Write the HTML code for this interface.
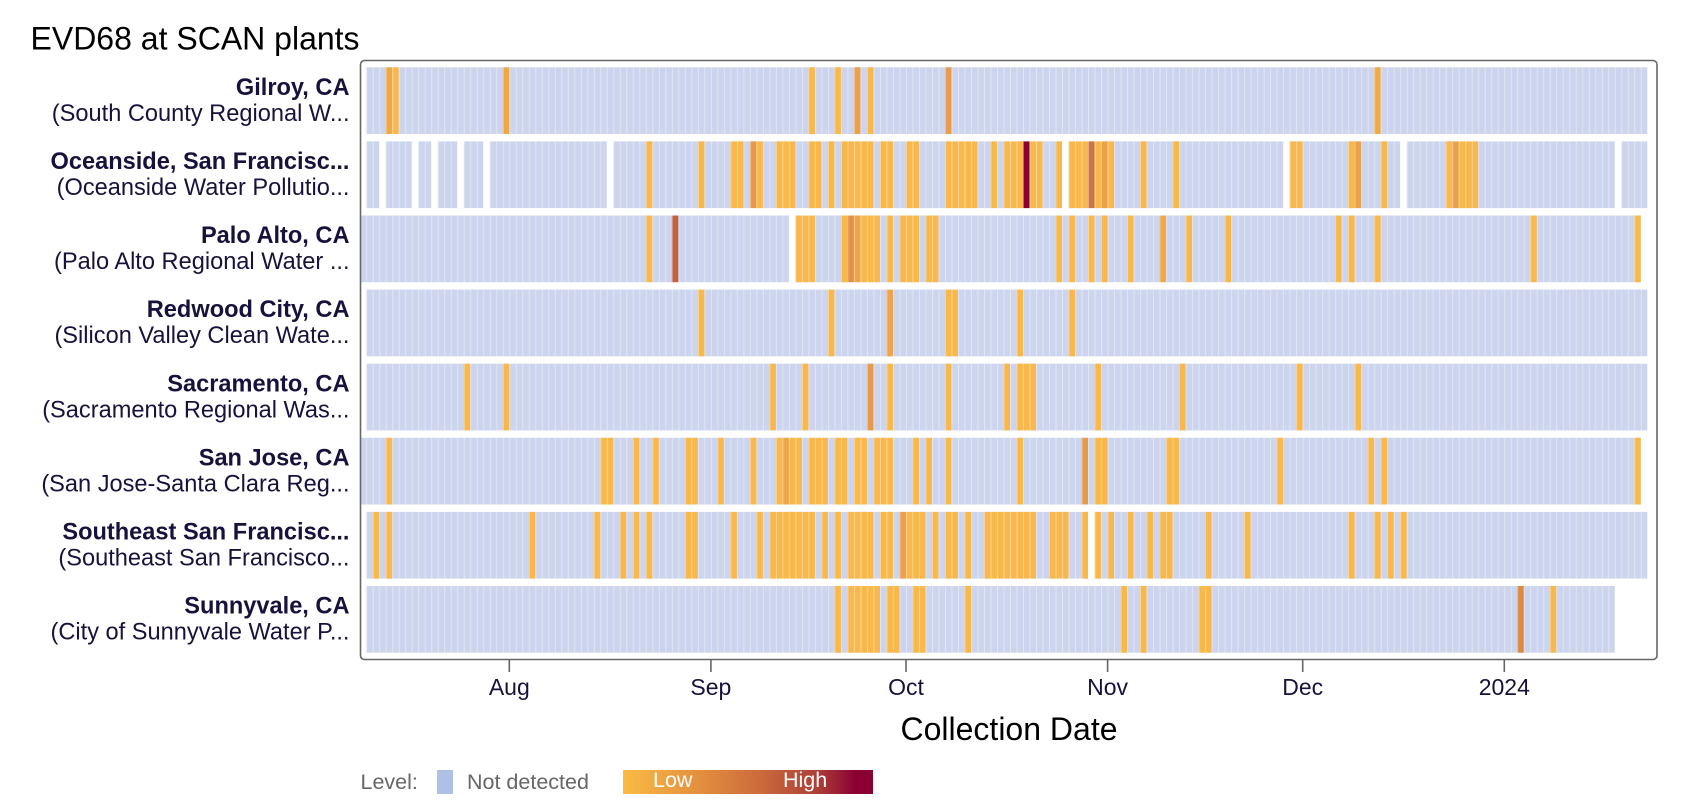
<!DOCTYPE html>
<html>
<head>
<meta charset="utf-8">
<style>
  html,body{margin:0;padding:0;background:#fff;}
  svg{display:block;font-family:"Liberation Sans",Arial,sans-serif;}
</style>
</head>
<body>
<svg width="1698" height="810" viewBox="0 0 1698 810" xmlns="http://www.w3.org/2000/svg">
  <defs>
    <clipPath id="plotclip"><rect x="361" y="61" width="1295" height="598"/></clipPath>
    <pattern id="sep" patternUnits="userSpaceOnUse" x="509.3" y="0" width="6.503" height="810">
      <rect x="0" y="0" width="0.9" height="810" fill="#ffffff" fill-opacity="0.42"/>
    </pattern>
    <linearGradient id="lg" x1="0" x2="1" y1="0" y2="0">
      <stop offset="0" stop-color="#fbbb44"/>
      <stop offset="0.3" stop-color="#e3903f"/>
      <stop offset="0.55" stop-color="#cc6a3c"/>
      <stop offset="0.78" stop-color="#ac3e37"/>
      <stop offset="0.93" stop-color="#8b0033"/>
      <stop offset="1" stop-color="#8b0033"/>
    </linearGradient>
  </defs>

  <rect x="0" y="0" width="1698" height="810" fill="#ffffff"/>

  <!-- Title -->
  <text x="30.5" y="49.3" font-size="32" fill="#000">EVD68 at SCAN plants</text>

  <!-- Cells -->
  <g clip-path="url(#plotclip)">
    <g transform="translate(509.3 0) scale(6.503 1)">
      <!-- Row 0 Gilroy -->
      <rect x="-22" y="67.3" width="197" height="66.7" fill="#ccd5ed"/>
      <g fill="#f9b84c">
        <rect x="-19" y="67.3" width="1" height="66.7" fill="#f0a843"/>
        <rect x="-18" y="67.3" width="1" height="66.7"/>
        <rect x="-1" y="67.3" width="1" height="66.7" fill="#f0a843"/>
        <rect x="46" y="67.3" width="1" height="66.7"/>
        <rect x="50" y="67.3" width="1" height="66.7"/>
        <rect x="53" y="67.3" width="1" height="66.7" fill="#eba04a"/>
        <rect x="55" y="67.3" width="1" height="66.7"/>
        <rect x="67" y="67.3" width="1" height="66.7" fill="#e99c4c"/>
        <rect x="133" y="67.3" width="1" height="66.7" fill="#f0aa48"/>
      </g>

      <!-- Row 1 Oceanside -->
      <rect x="-22" y="141.4" width="197" height="66.7" fill="#ccd5ed"/>
      <g fill="#ffffff">
        <rect x="-20" y="141.4" width="1" height="66.7"/>
        <rect x="-15" y="141.4" width="1" height="66.7"/>
        <rect x="-12" y="141.4" width="1" height="66.7"/>
        <rect x="-8" y="141.4" width="1" height="66.7"/>
        <rect x="-4" y="141.4" width="1" height="66.7"/>
        <rect x="15" y="141.4" width="1" height="66.7"/>
        <rect x="85" y="141.4" width="1" height="66.7"/>
        <rect x="119" y="141.4" width="1" height="66.7"/>
        <rect x="137" y="141.4" width="1" height="66.7"/>
        <rect x="170" y="141.4" width="1" height="66.7"/>
      </g>
      <g fill="#f9b84c">
        <rect x="21" y="141.4" width="1" height="66.7"/>
        <rect x="29" y="141.4" width="1" height="66.7"/>
        <rect x="34" y="141.4" width="2" height="66.7"/>
        <rect x="37" y="141.4" width="1" height="66.7" fill="#e99a48"/>
        <rect x="38" y="141.4" width="1" height="66.7"/>
        <rect x="41" y="141.4" width="3" height="66.7"/>
        <rect x="46" y="141.4" width="2" height="66.7"/>
        <rect x="49" y="141.4" width="1" height="66.7"/>
        <rect x="51" y="141.4" width="5" height="66.7"/>
        <rect x="57" y="141.4" width="2" height="66.7"/>
        <rect x="61" y="141.4" width="2" height="66.7"/>
        <rect x="67" y="141.4" width="5" height="66.7"/>
        <rect x="74" y="141.4" width="1" height="66.7"/>
        <rect x="76" y="141.4" width="3" height="66.7"/>
        <rect x="79" y="141.4" width="1" height="66.7" fill="#8b0033"/>
        <rect x="80" y="141.4" width="2" height="66.7"/>
        <rect x="84" y="141.4" width="1" height="66.7"/>
        <rect x="86" y="141.4" width="3" height="66.7"/>
        <rect x="89" y="141.4" width="1" height="66.7" fill="#cf7442"/>
        <rect x="90" y="141.4" width="1" height="66.7"/>
        <rect x="91" y="141.4" width="1" height="66.7" fill="#eba04a"/>
        <rect x="92" y="141.4" width="1" height="66.7"/>
        <rect x="97" y="141.4" width="1" height="66.7"/>
        <rect x="102" y="141.4" width="1" height="66.7"/>
        <rect x="120" y="141.4" width="2" height="66.7"/>
        <rect x="129" y="141.4" width="1" height="66.7"/>
        <rect x="130" y="141.4" width="1" height="66.7" fill="#eba04a"/>
        <rect x="134" y="141.4" width="1" height="66.7"/>
        <rect x="144" y="141.4" width="1" height="66.7"/>
        <rect x="145" y="141.4" width="1" height="66.7" fill="#eba04a"/>
        <rect x="146" y="141.4" width="3" height="66.7"/>
      </g>

      <!-- Row 2 Palo Alto -->
      <rect x="-23" y="215.5" width="197" height="66.7" fill="#ccd5ed"/>
      <rect x="43" y="215.5" width="1" height="66.7" fill="#ffffff"/>
      <g fill="#f9b84c">
        <rect x="21" y="215.5" width="1" height="66.7"/>
        <rect x="25" y="215.5" width="1" height="66.7" fill="#c3603e"/>
        <rect x="44" y="215.5" width="3" height="66.7"/>
        <rect x="51" y="215.5" width="1" height="66.7"/>
        <rect x="52" y="215.5" width="1" height="66.7" fill="#e39048"/>
        <rect x="53" y="215.5" width="1" height="66.7" fill="#eea448"/>
        <rect x="54" y="215.5" width="3" height="66.7"/>
        <rect x="58" y="215.5" width="1" height="66.7"/>
        <rect x="60" y="215.5" width="3" height="66.7"/>
        <rect x="64" y="215.5" width="2" height="66.7"/>
        <rect x="84" y="215.5" width="1" height="66.7"/>
        <rect x="86" y="215.5" width="1" height="66.7"/>
        <rect x="89" y="215.5" width="1" height="66.7"/>
        <rect x="91" y="215.5" width="1" height="66.7"/>
        <rect x="95" y="215.5" width="1" height="66.7"/>
        <rect x="100" y="215.5" width="1" height="66.7" fill="#f0a848"/>
        <rect x="104" y="215.5" width="1" height="66.7"/>
        <rect x="110" y="215.5" width="1" height="66.7"/>
        <rect x="127" y="215.5" width="1" height="66.7"/>
        <rect x="129" y="215.5" width="1" height="66.7"/>
        <rect x="133" y="215.5" width="1" height="66.7"/>
        <rect x="157" y="215.5" width="1" height="66.7"/>
        <rect x="173" y="215.5" width="1" height="66.7"/>
      </g>

      <!-- Row 3 Redwood City -->
      <rect x="-22" y="289.6" width="197" height="66.7" fill="#ccd5ed"/>
      <g fill="#f9b84c">
        <rect x="29" y="289.6" width="1" height="66.7"/>
        <rect x="49" y="289.6" width="1" height="66.7"/>
        <rect x="58" y="289.6" width="1" height="66.7" fill="#eea448"/>
        <rect x="67" y="289.6" width="2" height="66.7"/>
        <rect x="78" y="289.6" width="1" height="66.7"/>
        <rect x="86" y="289.6" width="1" height="66.7"/>
      </g>

      <!-- Row 4 Sacramento -->
      <rect x="-22" y="363.7" width="197" height="66.7" fill="#ccd5ed"/>
      <g fill="#f9b84c">
        <rect x="-7" y="363.7" width="1" height="66.7"/>
        <rect x="-1" y="363.7" width="1" height="66.7"/>
        <rect x="40" y="363.7" width="1" height="66.7"/>
        <rect x="45" y="363.7" width="1" height="66.7"/>
        <rect x="55" y="363.7" width="1" height="66.7" fill="#e89a48"/>
        <rect x="58" y="363.7" width="1" height="66.7"/>
        <rect x="67" y="363.7" width="1" height="66.7"/>
        <rect x="76" y="363.7" width="1" height="66.7"/>
        <rect x="78" y="363.7" width="3" height="66.7"/>
        <rect x="90" y="363.7" width="1" height="66.7"/>
        <rect x="103" y="363.7" width="1" height="66.7"/>
        <rect x="121" y="363.7" width="1" height="66.7"/>
        <rect x="130" y="363.7" width="1" height="66.7"/>
      </g>

      <!-- Row 5 San Jose -->
      <rect x="-23" y="437.8" width="197" height="66.7" fill="#ccd5ed"/>
      <g fill="#f9b84c">
        <rect x="-19" y="437.8" width="1" height="66.7"/>
        <rect x="14" y="437.8" width="2" height="66.7"/>
        <rect x="19" y="437.8" width="1" height="66.7"/>
        <rect x="22" y="437.8" width="1" height="66.7"/>
        <rect x="27" y="437.8" width="2" height="66.7"/>
        <rect x="32" y="437.8" width="1" height="66.7"/>
        <rect x="37" y="437.8" width="1" height="66.7"/>
        <rect x="41" y="437.8" width="1" height="66.7"/>
        <rect x="42" y="437.8" width="1" height="66.7" fill="#efa64a"/>
        <rect x="43" y="437.8" width="2" height="66.7"/>
        <rect x="46" y="437.8" width="3" height="66.7"/>
        <rect x="50" y="437.8" width="2" height="66.7"/>
        <rect x="53" y="437.8" width="2" height="66.7"/>
        <rect x="56" y="437.8" width="3" height="66.7"/>
        <rect x="62" y="437.8" width="1" height="66.7"/>
        <rect x="64" y="437.8" width="1" height="66.7"/>
        <rect x="67" y="437.8" width="1" height="66.7"/>
        <rect x="78" y="437.8" width="1" height="66.7"/>
        <rect x="88" y="437.8" width="1" height="66.7" fill="#e89a48"/>
        <rect x="90" y="437.8" width="2" height="66.7"/>
        <rect x="101" y="437.8" width="2" height="66.7"/>
        <rect x="118" y="437.8" width="1" height="66.7"/>
        <rect x="132" y="437.8" width="1" height="66.7"/>
        <rect x="134" y="437.8" width="1" height="66.7"/>
        <rect x="173" y="437.8" width="1" height="66.7"/>
      </g>

      <!-- Row 6 Southeast SF -->
      <rect x="-22" y="511.9" width="197" height="66.7" fill="#ccd5ed"/>
      <rect x="89" y="511.9" width="1" height="66.7" fill="#ffffff"/>
      <g fill="#f9b84c">
        <rect x="-21" y="511.9" width="1" height="66.7"/>
        <rect x="-19" y="511.9" width="1" height="66.7"/>
        <rect x="3" y="511.9" width="1" height="66.7"/>
        <rect x="13" y="511.9" width="1" height="66.7"/>
        <rect x="17" y="511.9" width="1" height="66.7"/>
        <rect x="19" y="511.9" width="1" height="66.7"/>
        <rect x="21" y="511.9" width="1" height="66.7"/>
        <rect x="27" y="511.9" width="2" height="66.7"/>
        <rect x="34" y="511.9" width="1" height="66.7"/>
        <rect x="38" y="511.9" width="1" height="66.7"/>
        <rect x="40" y="511.9" width="7" height="66.7"/>
        <rect x="48" y="511.9" width="1" height="66.7"/>
        <rect x="50" y="511.9" width="1" height="66.7"/>
        <rect x="52" y="511.9" width="4" height="66.7"/>
        <rect x="57" y="511.9" width="2" height="66.7"/>
        <rect x="60" y="511.9" width="1" height="66.7" fill="#eda24a"/>
        <rect x="61" y="511.9" width="3" height="66.7"/>
        <rect x="65" y="511.9" width="1" height="66.7"/>
        <rect x="67" y="511.9" width="2" height="66.7"/>
        <rect x="70" y="511.9" width="1" height="66.7"/>
        <rect x="73" y="511.9" width="8" height="66.7"/>
        <rect x="83" y="511.9" width="3" height="66.7"/>
        <rect x="88" y="511.9" width="1" height="66.7"/>
        <rect x="90" y="511.9" width="1" height="66.7"/>
        <rect x="92" y="511.9" width="1" height="66.7"/>
        <rect x="95" y="511.9" width="1" height="66.7"/>
        <rect x="98" y="511.9" width="1" height="66.7"/>
        <rect x="100" y="511.9" width="2" height="66.7"/>
        <rect x="107" y="511.9" width="1" height="66.7"/>
        <rect x="113" y="511.9" width="1" height="66.7"/>
        <rect x="129" y="511.9" width="1" height="66.7"/>
        <rect x="133" y="511.9" width="1" height="66.7"/>
        <rect x="135" y="511.9" width="1" height="66.7"/>
        <rect x="137" y="511.9" width="1" height="66.7"/>
      </g>

      <!-- Row 7 Sunnyvale -->
      <rect x="-22" y="586" width="192" height="66.7" fill="#ccd5ed"/>
      <g fill="#f9b84c">
        <rect x="50" y="586" width="1" height="66.7"/>
        <rect x="52" y="586" width="5" height="66.7"/>
        <rect x="58" y="586" width="2" height="66.7"/>
        <rect x="62" y="586" width="2" height="66.7"/>
        <rect x="70" y="586" width="1" height="66.7"/>
        <rect x="94" y="586" width="1" height="66.7"/>
        <rect x="97" y="586" width="1" height="66.7"/>
        <rect x="106" y="586" width="2" height="66.7"/>
        <rect x="155" y="586" width="1" height="66.7" fill="#dd8a40"/>
        <rect x="160" y="586" width="1" height="66.7"/>
      </g>
    </g>
    <!-- day separators -->
    <rect x="361" y="67" width="1295" height="586" fill="url(#sep)"/>
  </g>

  <!-- Plot frame -->
  <rect x="360.5" y="60.5" width="1296.5" height="599" rx="4" ry="4" fill="none" stroke="#666666" stroke-width="1.6"/>

  <!-- Y labels -->
  <g font-size="23.6" fill="#17123b" text-anchor="end">
    <text x="349.5" y="94.9" font-weight="bold">Gilroy, CA</text>
    <text x="349.5" y="120.9">(South County Regional W...</text>
    <text x="349.5" y="169.0" font-weight="bold">Oceanside, San Francisc...</text>
    <text x="349.5" y="195.0">(Oceanside Water Pollutio...</text>
    <text x="349.5" y="243.1" font-weight="bold">Palo Alto, CA</text>
    <text x="349.5" y="269.1">(Palo Alto Regional Water ...</text>
    <text x="349.5" y="317.2" font-weight="bold">Redwood City, CA</text>
    <text x="349.5" y="343.2">(Silicon Valley Clean Wate...</text>
    <text x="349.5" y="391.3" font-weight="bold">Sacramento, CA</text>
    <text x="349.5" y="417.3">(Sacramento Regional Was...</text>
    <text x="349.5" y="465.4" font-weight="bold">San Jose, CA</text>
    <text x="349.5" y="491.4">(San Jose-Santa Clara Reg...</text>
    <text x="349.5" y="539.5" font-weight="bold">Southeast San Francisc...</text>
    <text x="349.5" y="565.5">(Southeast San Francisco...</text>
    <text x="349.5" y="613.6" font-weight="bold">Sunnyvale, CA</text>
    <text x="349.5" y="639.6">(City of Sunnyvale Water P...</text>
  </g>

  <!-- X ticks -->
  <g stroke="#666666" stroke-width="1.6">
    <line x1="509.3" y1="660" x2="509.3" y2="672"/>
    <line x1="710.9" y1="660" x2="710.9" y2="672"/>
    <line x1="906.0" y1="660" x2="906.0" y2="672"/>
    <line x1="1107.6" y1="660" x2="1107.6" y2="672"/>
    <line x1="1302.7" y1="660" x2="1302.7" y2="672"/>
    <line x1="1504.3" y1="660" x2="1504.3" y2="672"/>
  </g>
  <g font-size="23" fill="#17123b" text-anchor="middle">
    <text x="509.3" y="695">Aug</text>
    <text x="710.9" y="695">Sep</text>
    <text x="906.0" y="695">Oct</text>
    <text x="1107.6" y="695">Nov</text>
    <text x="1302.7" y="695">Dec</text>
    <text x="1504.3" y="695">2024</text>
  </g>

  <!-- Axis title -->
  <text x="1009" y="740" font-size="32" fill="#000" text-anchor="middle">Collection Date</text>

  <!-- Legend -->
  <text x="360.5" y="789" font-size="21.5" fill="#666666">Level:</text>
  <rect x="437" y="770" width="16" height="24" fill="#aec0e6"/>
  <text x="467" y="789" font-size="21.5" fill="#666666">Not detected</text>
  <rect x="623" y="770" width="250" height="24" fill="url(#lg)"/>
  <text x="653" y="787" font-size="21.5" fill="#ffffff">Low</text>
  <text x="783" y="787" font-size="21.5" fill="#ffffff">High</text>
</svg>
</body>
</html>
